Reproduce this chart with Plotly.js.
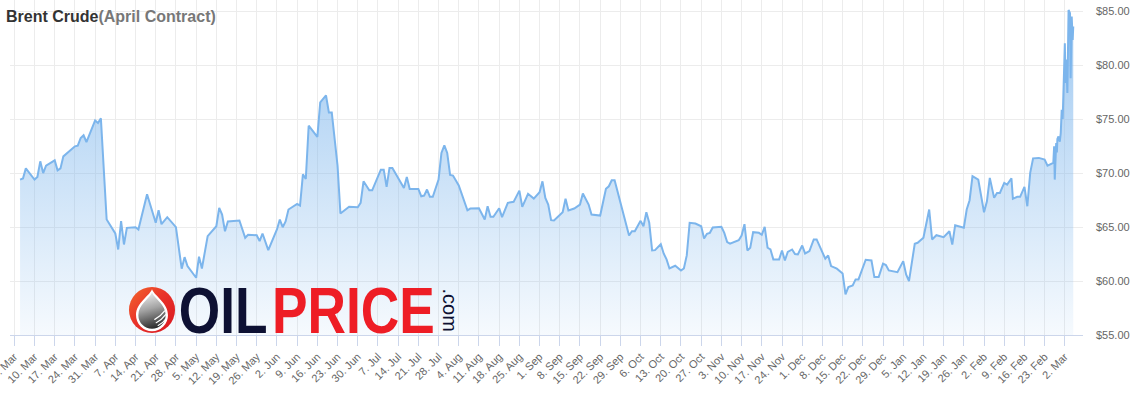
<!DOCTYPE html>
<html>
<head>
<meta charset="utf-8">
<script src="https://cdn.plot.ly/plotly-3.0.1.min.js"></script>
<style>
  html, body { margin: 0; padding: 0; background: #fff; }
  #chart { width: 1147px; height: 395px; }
</style>
</head>
<body>
<div id="chart"></div>
<script>
// ---- Data ----
const titleMain = "Brent Crude";
const titleSub = "(April Contract)";

const dates = [
  '2025-03-05','2025-03-06','2025-03-07','2025-03-10','2025-03-11','2025-03-12','2025-03-13','2025-03-14',
  '2025-03-17','2025-03-18','2025-03-19','2025-03-20','2025-03-24','2025-03-25','2025-03-26','2025-03-27',
  '2025-03-28','2025-03-31','2025-04-01','2025-04-02','2025-04-04','2025-04-07','2025-04-08','2025-04-09',
  '2025-04-10','2025-04-11','2025-04-14','2025-04-15','2025-04-18','2025-04-21','2025-04-22','2025-04-23',
  '2025-04-25','2025-04-28','2025-04-30','2025-05-01','2025-05-02','2025-05-05','2025-05-06','2025-05-07',
  '2025-05-09','2025-05-12','2025-05-13','2025-05-14','2025-05-15','2025-05-16','2025-05-20','2025-05-22',
  '2025-05-23','2025-05-26','2025-05-27','2025-05-28','2025-05-30','2025-06-02','2025-06-03','2025-06-04',
  '2025-06-05','2025-06-06','2025-06-09','2025-06-10','2025-06-11','2025-06-12','2025-06-13','2025-06-16',
  '2025-06-17','2025-06-19','2025-06-20','2025-06-21','2025-06-23','2025-06-24','2025-06-27','2025-06-30',
  '2025-07-01','2025-07-02','2025-07-04','2025-07-05','2025-07-08','2025-07-09','2025-07-10','2025-07-11',
  '2025-07-12','2025-07-15','2025-07-16','2025-07-17','2025-07-18','2025-07-21','2025-07-22','2025-07-23',
  '2025-07-24','2025-07-25','2025-07-26','2025-07-28','2025-07-29','2025-07-30','2025-07-31','2025-08-01',
  '2025-08-02','2025-08-04','2025-08-06','2025-08-07','2025-08-08','2025-08-11','2025-08-13','2025-08-14',
  '2025-08-15','2025-08-16','2025-08-18','2025-08-19','2025-08-21','2025-08-23','2025-08-25','2025-08-26',
  '2025-08-28','2025-08-30','2025-09-01','2025-09-02','2025-09-03','2025-09-04','2025-09-05','2025-09-06',
  '2025-09-09','2025-09-10','2025-09-11','2025-09-13','2025-09-15','2025-09-16','2025-09-18','2025-09-19',
  '2025-09-22','2025-09-24','2025-09-25','2025-09-26','2025-09-27','2025-09-30','2025-10-01','2025-10-02',
  '2025-10-03','2025-10-04','2025-10-06','2025-10-07','2025-10-08','2025-10-09','2025-10-10','2025-10-11',
  '2025-10-13','2025-10-14','2025-10-15','2025-10-16','2025-10-18','2025-10-20','2025-10-21','2025-10-22',
  '2025-10-23','2025-10-25','2025-10-27','2025-10-28','2025-10-29','2025-10-30','2025-10-31','2025-11-03',
  '2025-11-04','2025-11-05','2025-11-06','2025-11-08','2025-11-09','2025-11-10','2025-11-11','2025-11-12',
  '2025-11-13','2025-11-14','2025-11-16','2025-11-17','2025-11-18','2025-11-19','2025-11-20','2025-11-21',
  '2025-11-23','2025-11-24','2025-11-25','2025-11-26','2025-11-27 12:00','2025-11-28 12:00','2025-11-29 12:00','2025-12-01',
  '2025-12-02','2025-12-03 12:00','2025-12-05','2025-12-06','2025-12-09','2025-12-10','2025-12-11','2025-12-13',
  '2025-12-15','2025-12-16','2025-12-17','2025-12-18 12:00','2025-12-19 12:00','2025-12-20 12:00','2025-12-23','2025-12-25',
  '2025-12-26','2025-12-27 12:00','2025-12-29','2025-12-30','2025-12-31','2026-01-03','2026-01-05','2026-01-06',
  '2026-01-07','2026-01-09','2026-01-10','2026-01-12','2026-01-14','2026-01-15','2026-01-16 12:00','2026-01-19',
  '2026-01-21','2026-01-22','2026-01-23','2026-01-26','2026-01-27','2026-01-28','2026-01-29','2026-01-31',
  '2026-02-02','2026-02-03','2026-02-04','2026-02-05 12:00','2026-02-06 12:00','2026-02-07 12:00','2026-02-09','2026-02-10',
  '2026-02-11 12:00','2026-02-12','2026-02-13 12:00','2026-02-14 12:00','2026-02-16','2026-02-17','2026-02-18','2026-02-19',
  '2026-02-21','2026-02-23','2026-02-24','2026-02-26 00:00','2026-02-26 07:00','2026-02-26 12:00','2026-02-26 17:00','2026-02-27 00:00',
  '2026-02-27 06:00','2026-02-27 10:00','2026-02-27 19:00','2026-02-28 06:00','2026-02-28 14:00','2026-02-28 22:00','2026-03-01 06:00','2026-03-01 12:00',
  '2026-03-01 17:00','2026-03-02 00:00','2026-03-02 05:00','2026-03-02 12:00','2026-03-02 21:00','2026-03-03 07:00','2026-03-03 19:00','2026-03-04 00:00',
  '2026-03-04 09:00','2026-03-04 17:00','2026-03-04 22:00'
];

const prices = [
  69.39,69.50,70.43,69.39,69.64,71.08,70.00,70.68,
  71.17,70.25,70.43,71.54,72.47,72.53,73.24,73.49,
  72.87,74.87,74.63,75.06,65.69,64.40,62.92,65.54,
  63.38,64.92,64.98,64.77,68.03,65.39,66.55,65.26,
  65.91,64.98,61.14,62.21,61.38,60.30,62.25,61.16,
  64.15,65.07,66.77,66.16,64.61,65.51,65.60,64.00,
  64.28,64.24,63.69,64.40,62.86,64.77,65.69,64.98,
  65.51,66.62,67.14,66.99,69.88,69.45,74.38,73.34,
  76.53,77.18,75.61,75.61,70.68,66.25,66.87,66.83,
  67.24,69.23,68.40,68.40,70.31,70.31,68.71,70.47,
  70.47,69.08,68.62,69.64,68.53,68.53,67.85,67.91,
  68.47,67.79,67.79,69.39,71.86,72.56,71.86,69.82,
  69.76,68.84,67.24,66.55,66.71,66.74,65.69,66.92,
  65.94,65.94,66.74,65.91,67.24,67.33,68.37,66.87,
  68.07,67.63,68.22,69.23,67.70,67.08,65.63,65.60,
  66.37,67.61,66.53,66.71,67.08,68.10,67.08,66.16,
  66.06,68.53,68.77,69.33,69.33,66.31,65.44,64.21,
  64.61,64.61,65.57,65.07,66.37,65.39,62.83,62.86,
  63.41,62.55,62.00,61.16,61.41,60.98,61.16,62.37,
  65.39,65.32,65.07,63.94,64.37,64.46,64.95,65.02,
  64.46,63.60,63.45,63.69,63.78,64.21,65.26,62.83,
  63.08,64.52,64.46,64.28,65.02,63.08,62.92,62.00,
  62.00,62.83,61.90,62.70,62.92,62.50,62.46,63.29,
  62.55,62.77,63.85,63.85,62.06,62.37,61.38,61.14,
  60.70,58.76,59.44,59.59,60.15,60.15,61.97,61.90,
  60.36,60.36,61.60,61.47,60.98,60.82,61.84,60.61,
  59.99,63.45,63.54,64.00,66.62,63.85,64.24,64.06,
  64.61,63.38,65.17,64.93,66.62,67.48,69.70,69.39,
  66.37,67.38,69.55,67.70,68.16,68.16,69.08,68.93,
  69.51,67.61,67.79,67.79,68.71,66.92,70.01,71.36,
  71.40,71.24,70.68,70.93,72.47,69.39,72.30,72.78,
  71.90,73.15,73.39,72.90,73.70,75.86,75.00,77.40,
  78.63,82.02,78.33,80.50,77.40,85.10,84.80,78.78,
  84.50,82.33,83.56
];

const tickStart = '2025-03-03';
const logoWord1 = 'OIL';
const logoWord2 = 'PRICE';
const logoWord3 = '.com';

// ---- Styling / layout ----
const W = 1147, H = 395;
const M = {l: 10, r: 64, t: 0, b: 60};
const pw = W - M.l - M.r, ph = H - M.t - M.b;
const px2x = v => (v - M.l) / pw;
const px2y = v => (H - M.b - v) / ph;

const iconSvg =
'<svg xmlns="http://www.w3.org/2000/svg" viewBox="0 0 100 100">' +
'<defs>' +
'<linearGradient id="r" x1="0" y1="0" x2="1" y2="1"><stop offset="0" stop-color="#f3682c"/><stop offset="0.45" stop-color="#e9332a"/><stop offset="1" stop-color="#d8161f"/></linearGradient>' +
'<linearGradient id="g" x1="0.3" y1="0" x2="0.5" y2="1"><stop offset="0" stop-color="#eeeeee"/><stop offset="0.45" stop-color="#a4a4a4"/><stop offset="1" stop-color="#2b2b2b"/></linearGradient>' +
'</defs>' +
'<circle cx="50" cy="50" r="49" fill="url(#r)"/>' +
'<path d="M50,6 C57,22 84,35 84,61 A34,34 0 1 1 16,61 C16,35 43,22 50,6 Z" fill="#ffffff"/>' +
'<path d="M50,13 C56,27 79,38 79,61 A29,29 0 1 1 21,61 C21,38 44,27 50,13 Z" fill="url(#g)"/>' +
'<path d="M56,70 Q68,64 77,52" stroke="#fff" stroke-width="2.6" fill="none" stroke-linecap="round"/>' +
'<path d="M59,77 Q71,71 79,60" stroke="#fff" stroke-width="2.6" fill="none" stroke-linecap="round"/>' +
'<path d="M63,83 Q73,78 79,69" stroke="#fff" stroke-width="2.2" fill="none" stroke-linecap="round"/>' +
'</svg>';
const iconURI = 'data:image/svg+xml;charset=utf-8,' + encodeURIComponent(iconSvg);

const lineColor = '#7cb5ec';
const gridColor = '#ececec';
const axisColor = '#ccd6eb';
const labelFont = {family: 'Liberation Sans, Arial, Helvetica, sans-serif', size: 11, color: '#666666'};
const logoFamily = 'Liberation Sans, Arial, sans-serif';

const trace = {
  type: 'scatter',
  mode: 'lines',
  x: dates,
  y: prices,
  line: {color: lineColor, width: 2},
  fill: 'tozeroy',
  fillgradient: {
    type: 'vertical',
    start: 55,
    stop: 86,
    colorscale: [[0, 'rgba(124,181,236,0.07)'], [1, 'rgba(124,181,236,0.75)']]
  },
  hoverinfo: 'skip'
};

const layout = {
  width: W, height: H,
  margin: M,
  paper_bgcolor: '#ffffff',
  plot_bgcolor: '#ffffff',
  showlegend: false,
  hovermode: false,
  title: {
    text: '<b>' + titleMain + '<span style="color:#777777">' + titleSub + '</span></b>',
    font: {family: 'Liberation Sans, Arial, Helvetica, sans-serif', size: 16, color: '#333333'},
    xref: 'container', yref: 'container',
    x: 6 / W, xanchor: 'left',
    y: 1 - 16 / H, yanchor: 'middle'
  },
  xaxis: {
    type: 'date',
    range: ['2025-03-01 12:15', '2026-03-08 07:00'],
    tick0: tickStart,
    dtick: 7 * 86400000,
    tickformat: '%-d. %b',
    tickangle: -45,
    ticks: 'outside',
    ticklen: 10,
    tickcolor: axisColor,
    tickwidth: 1,
    ticklabeloverflow: 'allow',
    showline: true,
    linecolor: axisColor,
    linewidth: 1,
    showgrid: true,
    gridcolor: gridColor,
    gridwidth: 1,
    zeroline: false,
    tickfont: labelFont,
    automargin: false,
    fixedrange: true
  },
  yaxis: {
    range: [55, 86.02],
    side: 'right',
    tick0: 55,
    dtick: 5,
    tickformat: '$.2f',
    ticks: '',
    ticklabelstandoff: 12,
    showline: false,
    showgrid: true,
    gridcolor: gridColor,
    gridwidth: 1,
    zeroline: false,
    tickfont: labelFont,
    automargin: false,
    fixedrange: true
  },
  images: [{
    source: iconURI,
    xref: 'paper', yref: 'paper',
    x: px2x(128.5), y: px2y(286.5),
    sizex: 47 / pw, sizey: 47 / ph,
    xanchor: 'left', yanchor: 'top',
    sizing: 'stretch',
    layer: 'above'
  }],
  annotations: [
    {
      text: '<b>' + logoWord1 + '</b>',
      xref: 'paper', yref: 'paper',
      x: px2x(223.3), y: px2y(310),
      xanchor: 'center', yanchor: 'middle',
      showarrow: false,
      font: {family: logoFamily, size: 65, color: '#0e1133'}
    },
    {
      text: '<b>' + logoWord2 + '</b>',
      xref: 'paper', yref: 'paper',
      x: px2x(353.3), y: px2y(310),
      xanchor: 'center', yanchor: 'middle',
      showarrow: false,
      font: {family: logoFamily, size: 65, color: '#ee1d25'}
    },
    {
      text: logoWord3,
      xref: 'paper', yref: 'paper',
      x: px2x(449.5), y: px2y(310),
      xanchor: 'center', yanchor: 'middle',
      textangle: 90,
      showarrow: false,
      font: {family: 'Liberation Sans, Arial, sans-serif', size: 20, color: '#0e1133'}
    }
  ]
};

Plotly.newPlot('chart', [trace], layout, {staticPlot: true, displayModeBar: false}).then(gd => {
  // the logo lettering is a condensed face: narrow the two words around their centres
  [0, 1].forEach(i => {
    const t = gd.querySelector('.annotation[data-index="' + i + '"] .annotation-text');
    if (t) {
      t.style.transformBox = 'fill-box';
      t.style.transformOrigin = 'center';
      t.style.transform = 'scaleX(0.82)';
    }
  });
});
</script>
</body>
</html>
